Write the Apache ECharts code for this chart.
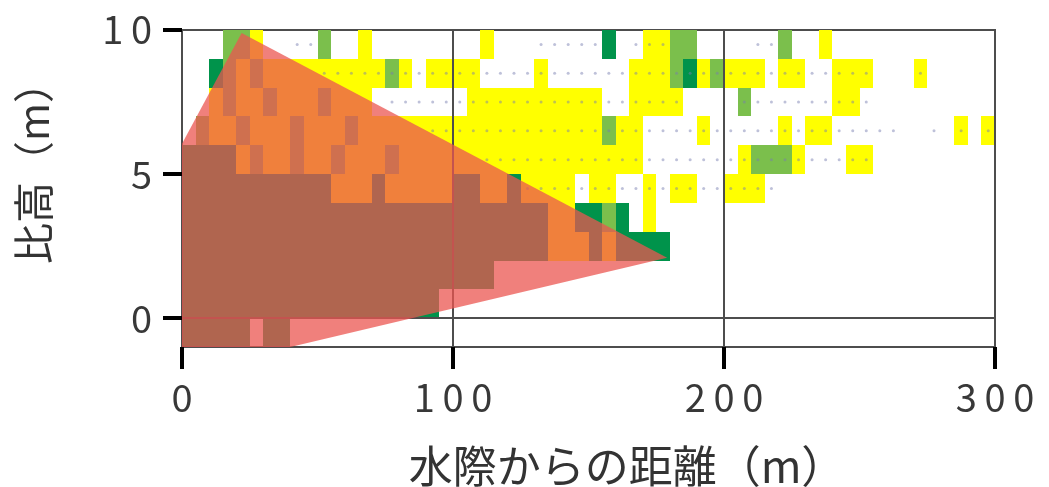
<!DOCTYPE html>
<html>
<head>
<meta charset="utf-8">
<script src="https://cdn.jsdelivr.net/npm/echarts@6/dist/echarts.min.js"></script>
<style>
  html, body { margin: 0; padding: 0; background: #ffffff; }
  #chart { width: 1049px; height: 487px; }
</style>
</head>
<body>
<div id="chart"></div>
<script>
// Vegetation cover along the shore profile.
// Each row is one 1 m height band; each character is one 5 m distance bin.
// '.' = none, 'y' = sparse, 'g' = medium, 'G' = dense.
const binWidth = 5;
const rowBottoms = [9, 8, 7, 6, 5, 4, 3, 2, 1, 0, -1];
const coverRows = [
  "...ggy.... g..y...... ..y....... .G..yygg.. ....g..y.. ..........",
  "..Ggygyyyy yyyyygy.yy yy....y... ...yyygGyg yyy.yy..yy y...y.....",
  "..ygyygyyy gyyy...... .yyyyyyyyy y..yyyy... .g......yy ..........",
  ".gyygyyygy yygyyyyyyy yyyyyyyyyy ygyy....y. ....y.yy.. .......y.y",
  "GGGGygyygy ygyyygyyyy yyyyyyyyyy yyyy...... .ygggy...y y.........",
  "GGGGGGGGGG GyyyGyyyyy GGyyGyyyy. yy..y.yy.. yyy....... ..........",
  "GGGGGGGGGG GGGGGGGGGG GGGGGGGyyG GgG.y..... .......... ..........",
  "GGGGGGGGGG GGGGGGGGGG GGGGGGGyyy GyGGGG.... .......... ..........",
  "GGGGGGGGGG GGGGGGGGGG GGG....... .......... .......... ..........",
  "GGGGGGGGGG GGGGGGGGG. .......... .......... .......... ..........",
  "GGGGG.GG.. .......... .......... .......... .......... .........."
];

// Survey points along each band ('*' = point in that 5 m bin), rows 9..4.
const surveyRowBottoms = [9, 8, 7, 6, 5, 4];
const surveyRows = [
  "........** .......... ......**** *..***.... ..**...... ..........",
  ".......... ********** ********** ********** ********** *...*.....",
  ".......... .....***** ********** *******... .********* *.........",
  ".......... ........** ********** ********** ********** ***..*.*.*",
  ".......... .......... ..******** ********** ********** *.........",
  ".......... .......... .....***** ********** ****...... .........."
];

// Outline of the shaded zone (distance m, height m).
const zoneVertices = [[0, 6.05], [22, 9.9], [179, 2.1], [40, -1], [0, -1]];

const xTicks = [0, 100, 200, 300];
const yTicks = [0, 5, 10];
const xTitle = '水際からの距離（m）';
const yTitle = '比高（m）';

const coverColors = { y: '#ffff00', g: '#7bbf4c', G: '#00934b' };
const FONT = '"Noto Sans CJK JP", "Noto Sans", sans-serif';

const cellData = [];
coverRows.forEach((row, r) => {
  row.replace(/ /g, '').split('').forEach((ch, c) => {
    if (ch !== '.') cellData.push([c * binWidth, rowBottoms[r], ch]);
  });
});

const pointData = [];
surveyRows.forEach((row, r) => {
  row.replace(/ /g, '').split('').forEach((ch, c) => {
    if (ch === '*') pointData.push([c * binWidth + binWidth / 2, surveyRowBottoms[r] + 0.5]);
  });
});

const spaced = v => String(v).split('').join('\u2009');

const chart = echarts.init(document.getElementById('chart'), null, { renderer: 'canvas' });

chart.setOption({
  animation: false,
  backgroundColor: '#ffffff',
  grid: {
    left: 182, top: 30, width: 813, height: 317,
    show: true, borderColor: '#4d4d4d', borderWidth: 2, backgroundColor: '#ffffff'
  },
  xAxis: {
    type: 'value', min: xTicks[0], max: xTicks[xTicks.length - 1], interval: 100, z: 3,
    axisLine: { show: true, onZero: false, lineStyle: { color: '#4d4d4d', width: 2 } },
    axisTick: { show: true, inside: false, length: 22, customValues: xTicks, lineStyle: { color: '#000000', width: 4 } },
    axisLabel: { margin: 32, fontSize: 38, color: '#383838', fontFamily: FONT, formatter: spaced },
    splitLine: { show: true, lineStyle: { color: '#4d4d4d', width: 2 } }
  },
  yAxis: {
    type: 'value', min: -1, max: 10, z: 3,
    axisLine: { show: false, onZero: false },
    axisTick: { show: true, length: 19, customValues: yTicks, lineStyle: { color: '#000000', width: 4 } },
    axisLabel: { customValues: yTicks, margin: 30, fontSize: 38, color: '#383838', fontFamily: FONT, formatter: spaced },
    splitLine: { show: false }
  },
  graphic: [
    {
      type: 'text', x: 33, y: 163, rotation: Math.PI / 2,
      style: { text: yTitle, fontSize: 41, fontFamily: FONT, fill: '#333333',
               textAlign: 'center', textVerticalAlign: 'middle', align: 'center', verticalAlign: 'middle' }
    },
    {
      type: 'text', x: 627, y: 466,
      style: { text: xTitle, fontSize: 44, fontFamily: FONT, fill: '#333333',
               textAlign: 'center', textVerticalAlign: 'middle', align: 'center', verticalAlign: 'middle' }
    }
  ],
  series: [
    {
      name: 'cover', type: 'custom', z: 1, clip: true,
      encode: { x: 0, y: 1 },
      data: cellData,
      renderItem: (params, api) => {
        const x0 = api.value(0), y0 = api.value(1);
        const p1 = api.coord([x0, y0 + 1]);
        const p2 = api.coord([x0 + binWidth, y0]);
        const l = Math.round(p1[0]), t = Math.round(p1[1]);
        return {
          type: 'rect',
          shape: { x: l, y: t, width: Math.round(p2[0]) - l, height: Math.round(p2[1]) - t },
          style: { fill: coverColors[cellData[params.dataIndex][2]] }
        };
      }
    },
    {
      name: 'points', type: 'scatter', z: 2,
      symbol: 'circle', symbolSize: 3,
      itemStyle: { color: 'rgba(120,125,175,0.6)' },
      data: pointData
    },
    {
      name: 'baseline', type: 'line', z: 3, data: [],
      markLine: {
        silent: true, symbol: ['none', 'none'], label: { show: false },
        lineStyle: { color: '#4d4d4d', width: 2, type: 'solid' },
        data: [{ yAxis: 0 }]
      }
    },
    {
      name: 'zone', type: 'custom', z: 5,
      encode: { x: 0, y: 1 },
      data: zoneVertices,
      renderItem: (params, api) => {
        if (params.dataIndex !== 0) return null;
        return {
          type: 'polygon',
          shape: { points: zoneVertices.map(v => api.coord(v)) },
          style: { fill: 'rgba(235,85,80,0.75)' }
        };
      }
    }
  ]
});
</script>
</body>
</html>
